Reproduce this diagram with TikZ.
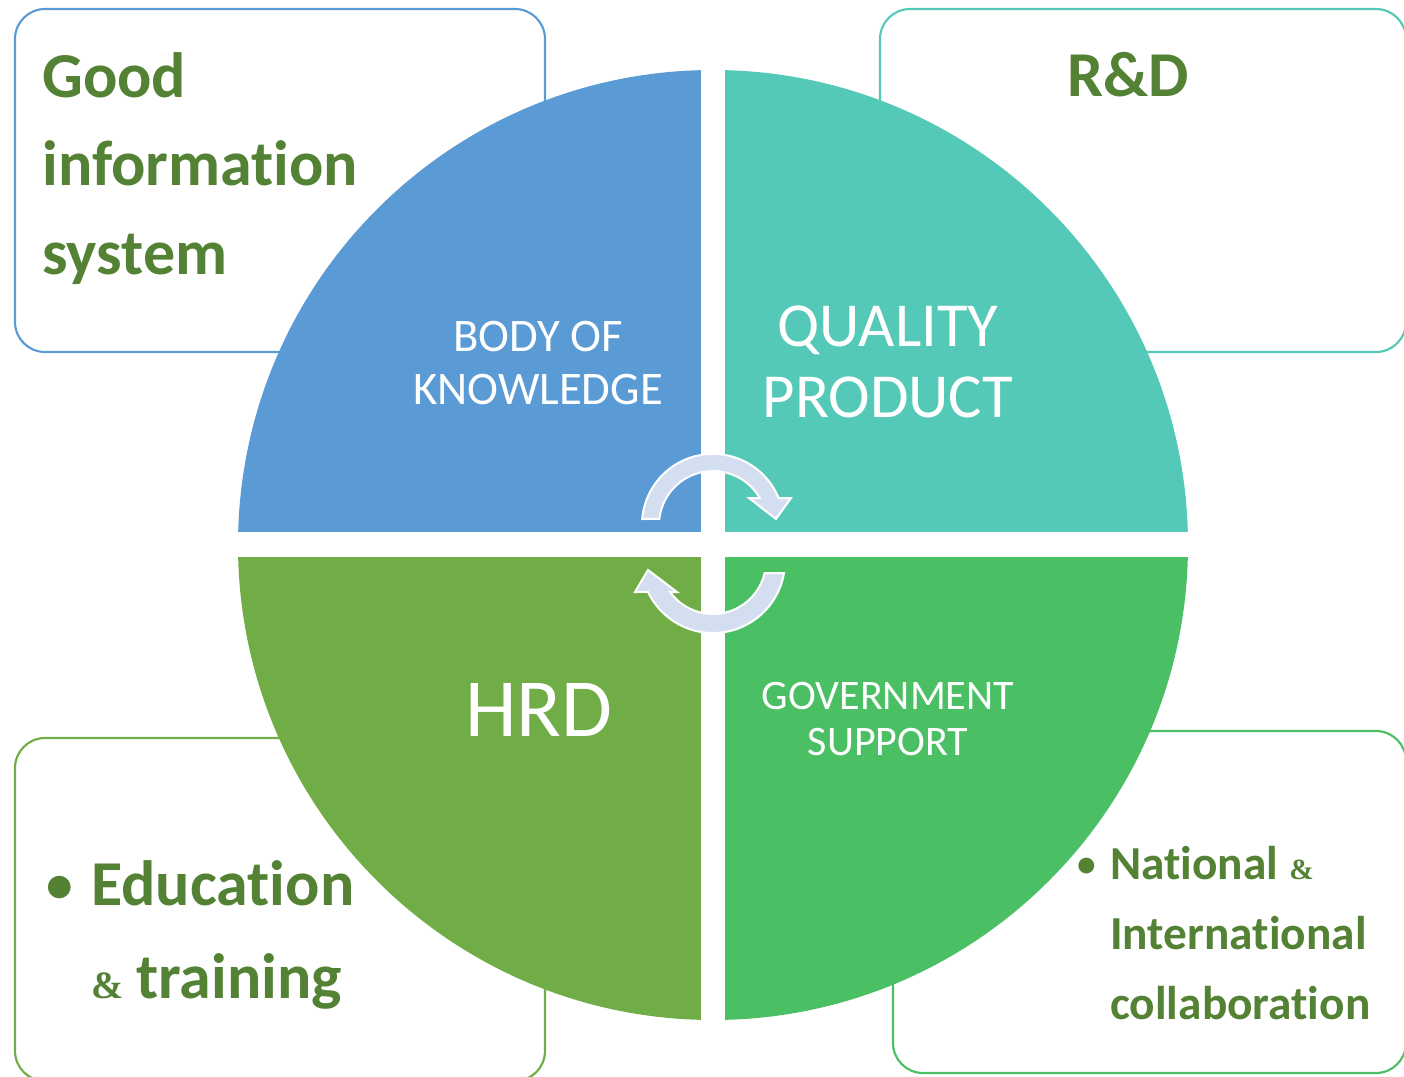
\documentclass[tikz,border=0pt]{standalone}
\usepackage{fontspec}
\setmainfont{Carlito}[Ligatures=NoCommon]
\newfontfamily\serifamp{Liberation Serif}
\definecolor{qblue}{HTML}{5B9BD5}
\definecolor{qteal}{HTML}{54C9B7}
\definecolor{qhrd}{HTML}{70AD47}
\definecolor{qgov}{HTML}{4BBF63}
\definecolor{txtgreen}{HTML}{548235}
\definecolor{arrowfill}{HTML}{D3DEF0}
\begin{document}
\begin{tikzpicture}[x=0.75pt,y=-0.75pt,
  infobox/.style={line width=1.6pt, rounded corners=22.5pt, fill=white},
  bigtext/.style={text=txtgreen, inner sep=0pt, anchor=base west, font=\fontsize{48}{56}\selectfont\bfseries},
  midtext/.style={text=txtgreen, inner sep=0pt, anchor=base west, font=\fontsize{35.5}{42}\selectfont\bfseries},
  amptext/.style={text=txtgreen, inner sep=0pt, anchor=base west},
  quadtext/.style={text=white, inner sep=0pt, anchor=base},
  cyclearrow/.style={fill=arrowfill, draw=white, line width=1.5pt, line join=miter}]
\useasboundingbox (0,0) rectangle (1404,1077);

% side boxes
\draw[infobox, draw=qblue] (15,9) rectangle (545,352);
\draw[infobox, draw=qteal] (880,9) rectangle (1406,352);
\draw[infobox, draw=qhrd] (15,738) rectangle (545,1081);
\draw[infobox, draw=qgov] (893,731) rectangle (1406,1073);

% circle quadrants
\fill[qblue] (713,545) -- (238,545) arc[start angle=180, end angle=270, radius=475] -- cycle;
\fill[qteal] (713,545) -- (713,70) arc[start angle=270, end angle=360, radius=475] -- cycle;
\fill[qgov]  (713,545) -- (1188,545) arc[start angle=0, end angle=90, radius=475] -- cycle;
\fill[qhrd]  (713,545) -- (713,1020) arc[start angle=90, end angle=180, radius=475] -- cycle;
\begin{scope}
  \clip (713,545) circle[radius=477];
  \fill[white] (701,55) rectangle (725,1035);
  \fill[white] (225,532) rectangle (1200,557);
\end{scope}

% cycle arrows
\filldraw[cyclearrow] (642.2,519) arc[start angle=-175.2, end angle=-22.3, radius=71]
  -- (791,498) -- (776,519) -- (749,498) -- (759.8,498)
  arc[start angle=-30, end angle=-173.6, radius=54] -- cycle;
\filldraw[cyclearrow] (784,573) arc[start angle=9.6, end angle=154.5, radius=72]
  -- (635,592) -- (648,570) -- (677,592) -- (670,592)
  arc[start angle=144.2, end angle=13.1, radius=53] -- cycle;

% box texts
\node[bigtext] (good) at (42,98) {Good};
\node[bigtext] (info) at (42,186) {information};
\node[bigtext] (sys) at (42,275) {system};
\node[bigtext, anchor=base] (rd) at (1128,97) {R\&D};

\node[bigtext, font=\fontsize{40}{48}\selectfont\bfseries] (edbullet) at (46,902) {•};
\node[bigtext] (edu) at (91,905) {Education};
\node[amptext, font=\serifamp\bfseries\fontsize{29}{34}\selectfont] (edamp) at (91,998) {\&};
\node[bigtext] (train) at (136,998) {training};

\node[midtext, font=\fontsize{28}{34}\selectfont\bfseries] (natbullet) at (1077,876) {•};
\node[midtext] (nat) at (1110,879) {National};
\node[amptext, font=\serifamp\bfseries\fontsize{22}{26}\selectfont] (natamp) at (1289,879) {\&};
\node[midtext] (intl) at (1110,949) {International};
\node[midtext] (collab) at (1110,1019) {collaboration};

% quadrant texts
\node[quadtext, font=\fontsize{35}{42}\selectfont] (body1) at (538,351) {BODY OF};
\node[quadtext, font=\fontsize{35}{42}\selectfont] (body2) at (538,404) {KNOWLEDGE};
\node[quadtext, font=\fontsize{47}{56}\selectfont] (qual1) at (888,346) {QUALITY};
\node[quadtext, font=\fontsize{47}{56}\selectfont] (qual2) at (888,417) {PRODUCT};
\node[quadtext, font=\fontsize{62}{74}\selectfont] (hrd) at (539,736) {HRD};
\node[quadtext, font=\fontsize{31.5}{38}\selectfont] (gov1) at (888,709) {GOVERNMENT};
\node[quadtext, font=\fontsize{31.5}{38}\selectfont] (gov2) at (888,755) {SUPPORT};
\end{tikzpicture}
\end{document}
